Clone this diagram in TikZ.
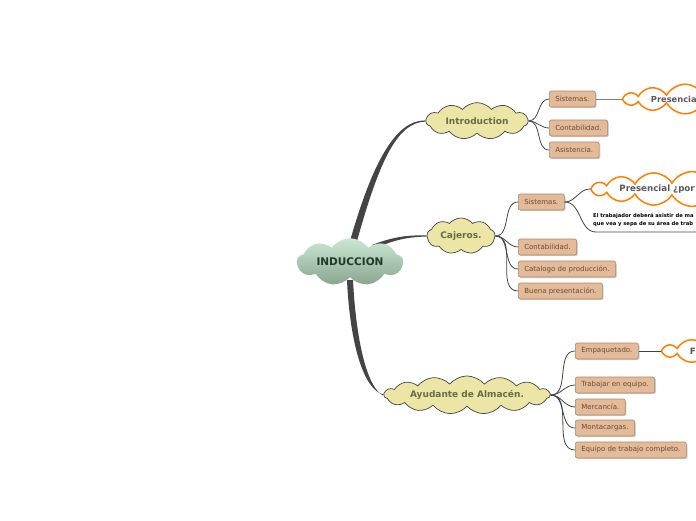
\documentclass[tikz,border=0pt]{standalone}
\usepackage{fontspec}
\setmainfont{DejaVu Sans}
\usetikzlibrary{shapes.symbols, shadows, positioning, backgrounds}
\definecolor{cHubTop} {HTML}{C9E8D3}
\definecolor{cHubBot} {HTML}{8BA58F}
\definecolor{cHubTxt} {HTML}{1F3A25}
\definecolor{cSub}    {HTML}{EBE6A6}
\definecolor{cSubTxt} {HTML}{6B6A48}
\definecolor{cLeaf}   {HTML}{E3BB99}
\definecolor{cLeafLn} {HTML}{A8866B}
\definecolor{cLeafTxt}{HTML}{6A4A36}
\definecolor{cOrange} {HTML}{FF8000}
\definecolor{cLine}   {HTML}{444444}

\begin{document}
\begin{tikzpicture}[x=1pt, y=-1pt,
      hub/.style = {cloud, cloud puffs=9, cloud puff arc=110, aspect=2.9, top color=cHubTop, bottom color=cHubBot, draw=none, minimum width=106pt, minimum height=46pt, inner sep=0pt, font=\fontsize{10.5}{12}\selectfont\bfseries, text=cHubTxt},
      sub/.style = {cloud, cloud puffs=11, cloud puff arc=100, fill=cSub, draw=cLine, line width=0.7pt, minimum height=36pt, inner sep=0pt, font=\fontsize{9}{11}\selectfont\bfseries, text=cSubTxt},
      lf/.style  = {rounded corners=2pt, fill=cLeaf, draw=cLeafLn, line width=0.6pt, minimum height=16pt, inner xsep=6pt, inner ysep=0pt, font=\fontsize{7}{8}\selectfont, text=cLeafTxt, drop shadow={shadow xshift=1.2pt, shadow yshift=-1.2pt, fill=black!35}, anchor=west},
      oc/.style  = {cloud, cloud puffs=16, cloud puff arc=120, cloud ignores aspect, fill=white, draw=cOrange, line width=1.5pt, text width=145pt, align=left, minimum height=29pt, inner sep=0pt, font=\fontsize{8.7}{10}\selectfont\bfseries, text=black!65, anchor=west},
      tw/.style  = {draw=cLine, line width=0.8pt},
      tr/.style  = {fill=cLine} ]
    \useasboundingbox (0,0) rectangle (696,520);
    \clip (0,0) rectangle (696,520);
    % centre and main topics
    \node[hub] (c) at (350,262) {INDUCCION};
    \node[sub, minimum width=102pt, aspect=3.4] (intro) at (477,121) {Introduction};
    \node[sub, minimum width=68pt, aspect=2.1, cloud puffs=9] (caj) at (461,236) {Cajeros.};
    \node[sub, minimum width=166pt, aspect=7, cloud puffs=15] (ayu) at (467,395) {Ayudante de Almacén.};
    % leaves
    \node[lf] (i1) at (549,99)  {Sistemas.};
    \node[lf] (i2) at (549,128) {Contabilidad.};
    \node[lf] (i3) at (549,150) {Asistencia.};
    \node[lf] (c1) at (518,202) {Sistemas.};
    \node[lf] (c2) at (518,247) {Contabilidad.};
    \node[lf] (c3) at (518,269) {Catalogo de producción.};
    \node[lf] (c4) at (518,291) {Buena presentación.};
    \node[lf] (a1) at (575,351) {Empaquetado.};
    \node[lf] (a2) at (575,385) {Trabajar en equipo.};
    \node[lf] (a3) at (575,407) {Mercancía.};
    \node[lf] (a4) at (575,428) {Montacargas.};
    \node[lf] (a5) at (575,450) {Equipo de trabajo completo.};
    % notes
    \node[oc, right=26pt of i1, font=\fontsize{8.3}{10}\selectfont\bfseries] (p1) {Presencia};
    \node[oc] (p2) at (590,189) {Presencial ¿por};
    \node[oc, right=22pt of a1] (p3) {F};
    \node[anchor=north west, align=left, inner sep=0pt, font=\fontsize{5.2}{8}\selectfont\bfseries] (nt) at (593,213)
      {El trabajador deberá asistir de ma\\que vea y sepa de su área de trab};
    \coordinate (nl) at (596,232);
    \coordinate (nr) at (700,232);
    % connectors
    \foreach \l in {i1,i2,i3} \draw[tw] (intro.east) to[out=0,in=180] (\l.west);
    \foreach \l in {c1,c2,c3,c4} \draw[tw] (caj.east) to[out=0,in=180] (\l.west);
    \foreach \l in {a1,a2,a3,a4,a5} \draw[tw] (ayu.east) to[out=0,in=180] (\l.west);
    \draw[tw, draw=black!50] (i1) -- (p1);
    \draw[tw] (a1) -- (p3);
    \draw[tw] (c1.east) to[out=0,in=180] (p2.west);
    \draw[tw] (c1.east) to[out=0,in=180] (nl) -- (nr);
    \begin{scope}[on background layer]
      \fill[tr] ([yshift=-3pt]c.north) .. controls (372,164) and (395,120) .. ([yshift=0.6pt]intro.west)
        -- ([yshift=-0.6pt]intro.west) .. controls (396,122) and (378,166) .. ([xshift=7pt,yshift=-3pt]c.north) -- cycle;
      \fill[tr] ([xshift=22pt,yshift=17pt]c.center) .. controls (395,236) and (410,235) .. ([yshift=0.5pt]caj.west)
        -- ([yshift=-0.5pt]caj.west) .. controls (410,237) and (395,239) .. ([xshift=24pt,yshift=13pt]c.center) -- cycle;
      \fill[tr] ([xshift=-3pt,yshift=-18pt]c.center) .. controls (350,345) and (364,390) .. ([yshift=0.6pt]ayu.west)
        -- ([yshift=-0.6pt]ayu.west) .. controls (367,388) and (356,340) .. ([xshift=3pt,yshift=-18pt]c.center) -- cycle;
    \end{scope}
  \end{tikzpicture}
\end{document}
